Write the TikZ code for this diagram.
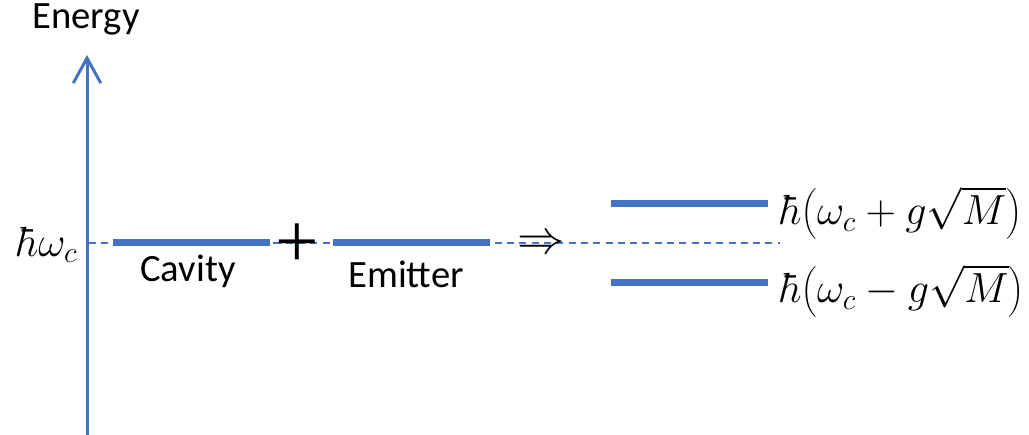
\documentclass[tikz,border=0pt]{standalone}
\usepackage{fix-cm}
\usepackage{graphicx}
\usepackage{fontspec}
\setmainfont{Carlito}
\newfontfamily\plusfont{Liberation Serif}
\usetikzlibrary{arrows.meta}
\definecolor{officeblue}{HTML}{4472C4}
\begin{document}
\begin{tikzpicture}[x=0.02cm,y=-0.02cm,
  level/.style={draw=officeblue,line width=7*0.02cm},
  lbl/.style={font=\fontsize{22}{26}\selectfont,inner sep=0pt},
  mlbl/.style={font=\fontsize{20}{24}\selectfont,inner sep=0pt}]
\useasboundingbox (0,0) rectangle (1029,435);
% axis
\coordinate (axb) at (87,437);
\coordinate (axt) at (87,55);
\draw[officeblue,line width=3*0.02cm,-{Straight Barb[length=0.5cm,width=0.55cm,line width=3*0.02cm]}] (axb) -- (axt);
\node[lbl] (energy) at (86,19) {Energy};
% dashed reference line
\coordinate (dl) at (89,243);
\coordinate (dr) at (780,243);
\draw[officeblue,line width=0.6pt,dash pattern=on 4pt off 3pt] (dl) -- (dr);
\node[mlbl,anchor=east] (hw) at (78,245) {\scalebox{1.2}{$\hbar\omega_c$}};
% cavity
\coordinate (c1) at (113,243);
\coordinate (c2) at (270,243);
\draw[level] (c1) -- (c2);
\node[lbl] (cav) at (188,271) {Cavity};
\node[font=\plusfont\fontsize{44}{44}\selectfont,inner sep=0pt] (plus) at (297,246) {+};
% emitter
\coordinate (e1) at (333,243);
\coordinate (e2) at (490,243);
\draw[level] (e1) -- (e2);
\node[lbl] (emi) at (406,274) {Emitter};
\node[mlbl] (impl) at (541,245) {\scalebox{1.35}{$\Rightarrow$}};
% polaritons
\coordinate (u1) at (611,204);
\coordinate (u2) at (768,204);
\draw[level] (u1) -- (u2);
\coordinate (l1) at (611,283);
\coordinate (l2) at (768,283);
\draw[level] (l1) -- (l2);
\node[mlbl,anchor=west] (up) at (782,213) {\scalebox{1.2}{$\hbar\mathopen{}\left(\omega_c+g\sqrt{M}\right)$}};
\node[mlbl,anchor=west] (lo) at (782,291) {\scalebox{1.2}{$\hbar\mathopen{}\left(\omega_c-g\sqrt{M}\right)$}};
\end{tikzpicture}
\end{document}
